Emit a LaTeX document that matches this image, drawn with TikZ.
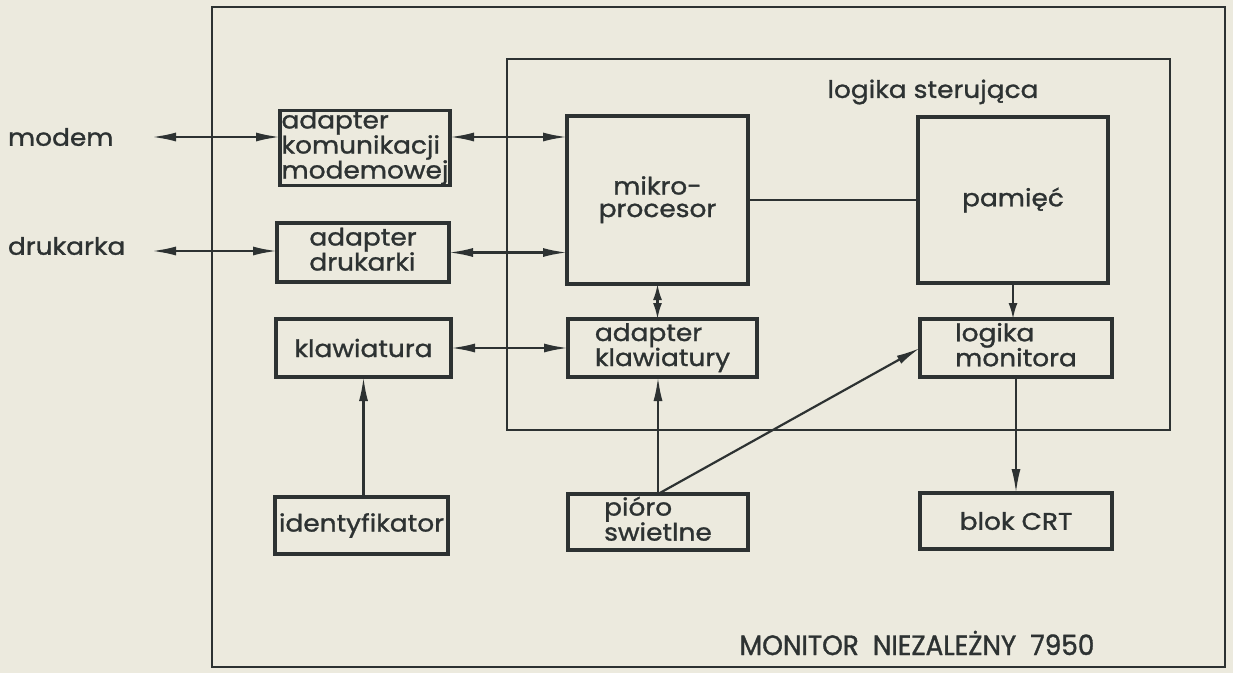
\documentclass[tikz,border=0pt]{standalone}
\usepackage{fontspec}
\setmainfont{Poppins}[FakeStretch=1.1, FakeBold=1.2]
\newfontfamily\tytulfont[FakeStretch=0.94, FakeBold=1.2]{Poppins}
\usetikzlibrary{arrows.meta,positioning}
\definecolor{paperColor}{RGB}{236,234,222}
\definecolor{inkColor}{RGB}{45,50,50}
\newcommand{\blokfont}{\fontsize{24}{22.5}\selectfont}
\tikzset{
	blok/.style={draw=inkColor, line width=3.4pt, inner sep=0, outer sep=0, font=\blokfont, text=inkColor},
	ramka/.style={draw=inkColor, line width=2.4pt, inner sep=0, outer sep=0},
	napis/.style={inner sep=0, outer sep=0, font=\blokfont, text=inkColor},
	lacze/.style={draw=inkColor, line width=2.2pt},
	krotka/.style={>={Latex[length=16pt,width=9pt]}}
}

\begin{document}
\begin{tikzpicture}[x=1pt, y=-1pt, >={Latex[length=24pt,width=9pt]}]
	\fill[paperColor] (0,0) rectangle (1233,673);
	\useasboundingbox (0,0) rectangle (1233,673);
	% ramki
	\node[ramka, minimum width=1013pt, minimum height=660pt] (monitor) at (718.5,337) {};
	\node[ramka, minimum width=663pt, minimum height=371pt] (sterowanie) at (838.5,244.5) {};
	\node[napis] (l_ster) at (933,92) {logika sterująca};
	\node[napis] (l_monitor) at (917,643) {\tytulfont\fontsize{28}{30}\selectfont MONITOR\ \ NIEZALEŻNY\ \ 7950};
	\node[napis, anchor=west] (modem) at (8,137) {modem};
	\node[napis, anchor=west] (drukarka) at (8,246) {drukarka};
	\coordinate (modem_k) at (152,137);
	\coordinate (drukarka_k) at (152,251);
	% bloki
	\node[blok, minimum width=170pt, minimum height=70pt] (ad_kom) at (365,148) {\begin{tabular}{@{}l@{}} adapter \\ komunikacji \\ modemowej \end{tabular}};
	\node[blok, minimum width=172pt, minimum height=59pt] (ad_druk) at (363,252.5) {\begin{tabular}{@{}l@{}} adapter \\ drukarki \end{tabular}};
	\node[blok, minimum width=175pt, minimum height=58pt] (klaw) at (363.5,348) {klawiatura};
	\node[blok, minimum width=173pt, minimum height=57pt] (ident) at (361.5,525.5) {identyfikator};
	\node[blok, minimum width=181pt, minimum height=168pt] (mikro) at (657.5,200) {\begin{tabular}{@{}c@{}} mikro- \\ procesor \end{tabular}};
	\node[blok, minimum width=189pt, minimum height=58pt] (ad_klaw) at (662.5,348) {\begin{tabular}{@{}l@{}} adapter \\ klawiatury \end{tabular}};
	\node[blok, minimum width=180pt, minimum height=56pt] (pioro) at (658,522) {\begin{tabular}{@{}l@{}} pióro \\ swietlne \end{tabular}};
	\node[blok, minimum width=190pt, minimum height=166pt] (pamiec) at (1013,200) {pamięć};
	\node[blok, minimum width=192pt, minimum height=58pt] (log_mon) at (1016,348) {\begin{tabular}{@{}l@{}} logika \\ monitora \end{tabular}};
	\node[blok, minimum width=192pt, minimum height=56pt] (crt) at (1016,521) {blok CRT};
	% polaczenia
	\draw[lacze, <->] (modem_k) -- (ad_kom.west |- modem_k);
	\draw[lacze, <->] (ad_kom.east |- modem_k) -- (mikro.west |- modem_k);
	\draw[lacze, <->] (drukarka_k) -- (ad_druk.west |- drukarka_k);
	\draw[lacze, <->] (ad_druk.east) -- (ad_druk.east -| mikro.west);
	\draw[lacze, <->] (klaw) -- (ad_klaw);
	\draw[lacze] (mikro) -- (pamiec);
	\draw[lacze, krotka, <->] (mikro.south) -- (mikro.south |- ad_klaw.north);
	\draw[lacze, krotka, ->] (pamiec.south) -- (pamiec.south |- log_mon.north);
	\draw[lacze, ->] (klaw.south |- ident.north) -- (klaw.south);
	\draw[lacze, ->] (pioro.north) -- (pioro.north |- ad_klaw.south);
	\draw[lacze, ->] (pioro.north) -- (log_mon.west);
	\draw[lacze, ->] (log_mon) -- (crt);
\end{tikzpicture}
\end{document}
